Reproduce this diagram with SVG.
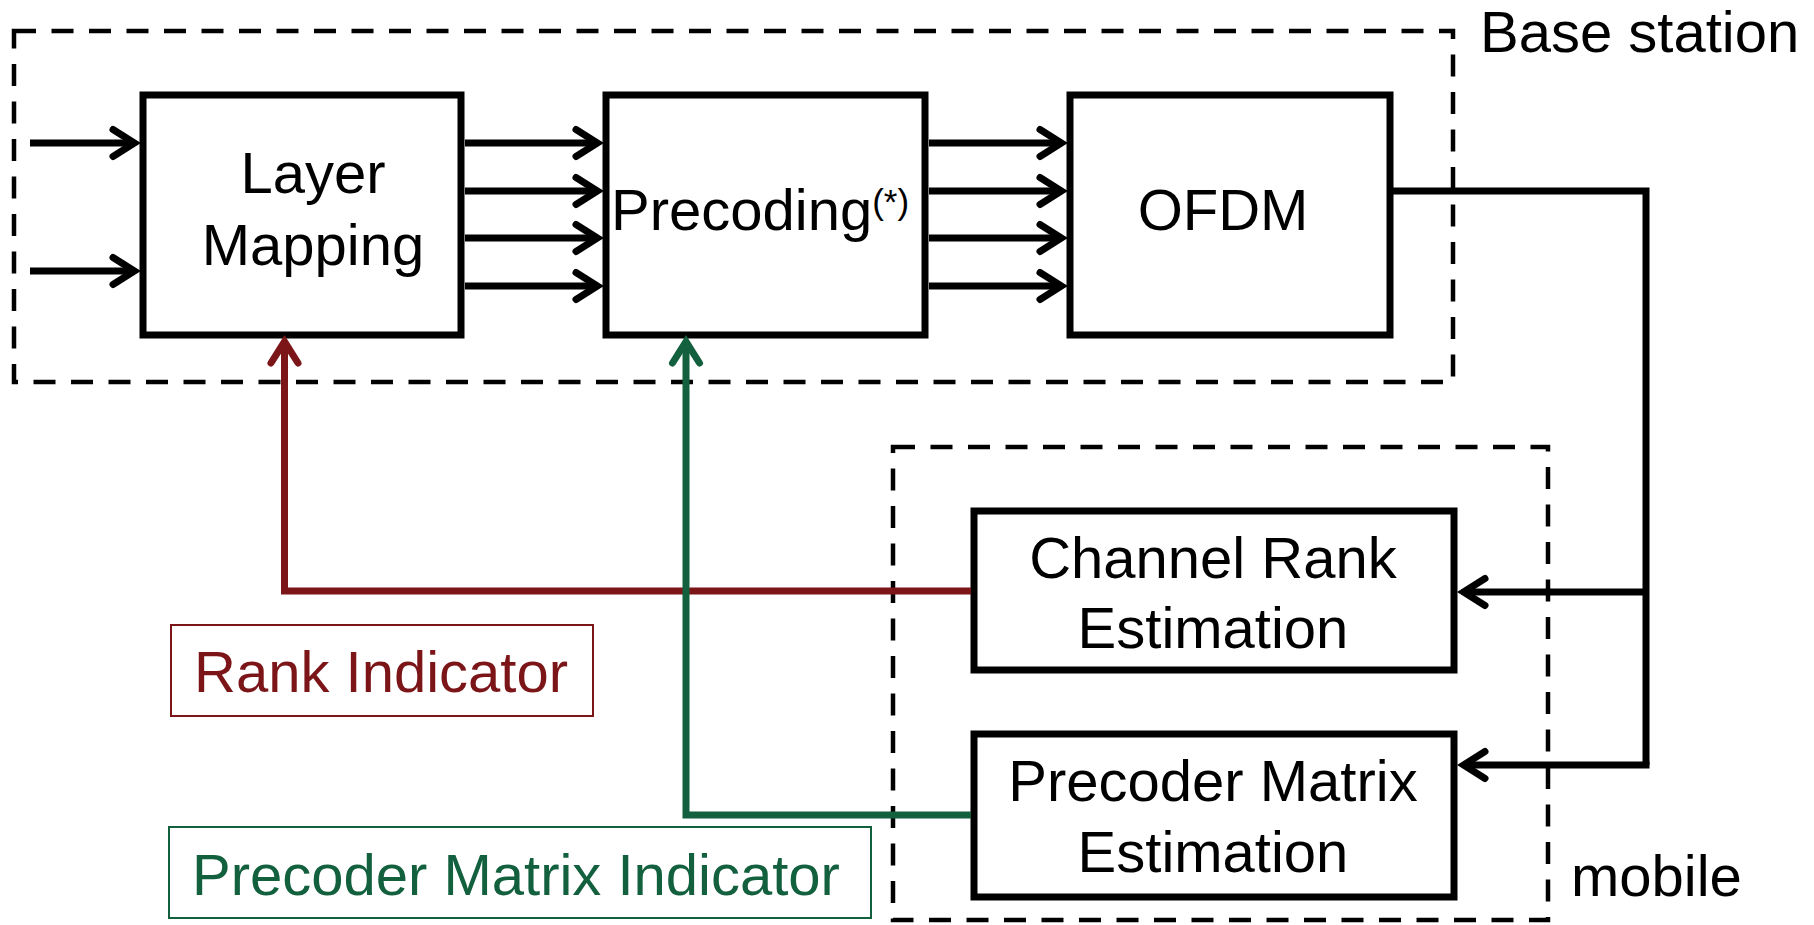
<svg xmlns="http://www.w3.org/2000/svg" width="1814" height="925" viewBox="0 0 1814 925">
  <style>
    text { font-family: "Liberation Sans", Arial, sans-serif; font-size: 58px; fill: #000; }
    .mid { text-anchor: middle; }
    .block { fill: #fff; stroke: #000; stroke-width: 7; stroke-linejoin: miter; }
    .zone { fill: none; stroke: #000; stroke-width: 4.5; stroke-dasharray: 22 15.5; }
    .wire { fill: none; stroke: #000; stroke-width: 7; stroke-linejoin: miter; }
    .arrow { marker-end: url(#head-black); }
    .ri { fill: none; stroke: #7b1518; stroke-width: 7; marker-end: url(#head-red); }
    .pmi { fill: none; stroke: #12603e; stroke-width: 7; marker-end: url(#head-green); }
    .ri-text { fill: #7b1518; }
    .pmi-text { fill: #12603e; }
  </style>
  <defs>
    <marker id="head-black" markerUnits="userSpaceOnUse" orient="auto" overflow="visible" refX="0" refY="0">
      <path d="M -22 -13.5 L -0.6 0 L -22 13.5" fill="none" stroke="#000" stroke-width="7" stroke-linecap="round" stroke-linejoin="miter"/>
    </marker>
    <marker id="head-red" markerUnits="userSpaceOnUse" orient="auto" overflow="visible" refX="0" refY="0">
      <path d="M -22 -13.5 L -0.6 0 L -22 13.5" fill="none" stroke="#7b1518" stroke-width="7" stroke-linecap="round" stroke-linejoin="miter"/>
    </marker>
    <marker id="head-green" markerUnits="userSpaceOnUse" orient="auto" overflow="visible" refX="0" refY="0">
      <path d="M -22 -13.5 L -0.6 0 L -22 13.5" fill="none" stroke="#12603e" stroke-width="7" stroke-linecap="round" stroke-linejoin="miter"/>
    </marker>
  </defs>

  <rect width="1814" height="925" fill="#fff"/>

  <!-- dashed enclosures -->
  <g id="base-station">
    <rect class="zone" x="14" y="31" width="1439" height="351"/>
    <text x="1480" y="52">Base station</text>
  </g>
  <g id="mobile">
    <rect class="zone" x="893" y="447" width="655" height="473"/>
    <text x="1571" y="896">mobile</text>
  </g>

  <!-- processing blocks -->
  <g id="layer-mapping">
    <rect class="block" x="143" y="95" width="318" height="240"/>
    <text class="mid" x="313" y="193">Layer</text>
    <text class="mid" x="313" y="265">Mapping</text>
  </g>
  <g id="precoding">
    <rect class="block" x="606" y="95" width="319" height="240"/>
    <text x="611" y="230">Precoding<tspan font-size="35" dy="-16">(*)</tspan></text>
  </g>
  <g id="ofdm">
    <rect class="block" x="1070" y="95" width="320" height="240"/>
    <text class="mid" x="1223" y="230">OFDM</text>
  </g>
  <g id="channel-rank-estimation">
    <rect class="block" x="974" y="511" width="480" height="159"/>
    <text class="mid" x="1213" y="578">Channel Rank</text>
    <text class="mid" x="1213" y="648">Estimation</text>
  </g>
  <g id="precoder-matrix-estimation">
    <rect class="block" x="974" y="734" width="480" height="163"/>
    <text class="mid" x="1213" y="801">Precoder Matrix</text>
    <text class="mid" x="1213" y="872">Estimation</text>
  </g>

  <!-- feedback labels -->
  <g id="rank-indicator-label">
    <rect x="171" y="625" width="422" height="91" fill="none" stroke="#7b1518" stroke-width="2"/>
    <text class="ri-text" x="194" y="692">Rank Indicator</text>
  </g>
  <g id="pmi-label">
    <rect x="169" y="827" width="702" height="91" fill="none" stroke="#12603e" stroke-width="2"/>
    <text class="pmi-text" x="192" y="895">Precoder Matrix Indicator</text>
  </g>

  <!-- connectors -->
  <g id="connectors">
    <line class="wire arrow" x1="30" y1="143" x2="135" y2="143"/>
    <line class="wire arrow" x1="30" y1="271" x2="135" y2="271"/>

    <line class="wire arrow" x1="465" y1="143" x2="598" y2="143"/>
    <line class="wire arrow" x1="465" y1="191" x2="598" y2="191"/>
    <line class="wire arrow" x1="465" y1="238" x2="598" y2="238"/>
    <line class="wire arrow" x1="465" y1="286" x2="598" y2="286"/>

    <line class="wire arrow" x1="929" y1="143" x2="1062" y2="143"/>
    <line class="wire arrow" x1="929" y1="191" x2="1062" y2="191"/>
    <line class="wire arrow" x1="929" y1="238" x2="1062" y2="238"/>
    <line class="wire arrow" x1="929" y1="286" x2="1062" y2="286"/>

    <polyline class="wire" points="1393,191 1646,191 1646,765"/>
    <line class="wire arrow" x1="1646" y1="592" x2="1463" y2="592"/>
    <line class="wire arrow" x1="1649.5" y1="765" x2="1463" y2="765"/>

    <polyline class="ri" points="971,591 284.5,591 284.5,341"/>
    <polyline class="pmi" points="971,815 686,815 686,341"/>
  </g>
</svg>
